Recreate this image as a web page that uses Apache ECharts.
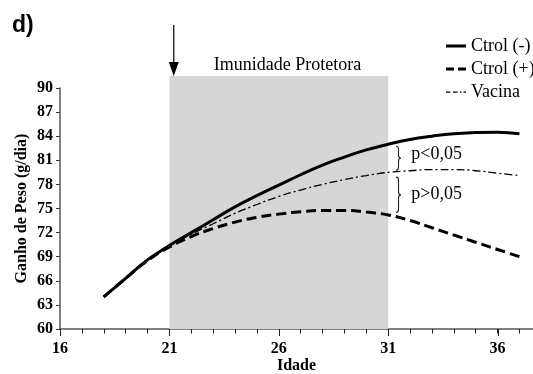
<!DOCTYPE html>
<html><head><meta charset="utf-8">
<script src="https://cdn.jsdelivr.net/npm/echarts@6/dist/echarts.min.js"></script>
<style>html,body{margin:0;padding:0;background:#fff}#c{width:533px;height:374px}</style>
</head><body><div id="c"></div>
<script>
// ---- data ----
const days = [18,19,20,21,22,23,24,25,26,27,28,29,30,31,32,33,34,35,36,37];
const ctrlNeg = [64.0,66.3,68.6,70.4,72.0,73.6,75.2,76.6,77.9,79.2,80.4,81.4,82.3,83.0,83.6,84.0,84.3,84.45,84.5,84.3];
const ctrlPos = [64.0,66.3,68.5,70.2,71.5,72.5,73.3,73.9,74.3,74.6,74.75,74.75,74.55,74.2,73.5,72.6,71.7,70.8,69.9,69.0];
const vacina  = [64.0,66.3,68.5,70.3,71.8,73.1,74.4,75.5,76.5,77.3,78.0,78.6,79.1,79.5,79.7,79.85,79.85,79.7,79.4,79.1];
const seriesNames = ['Ctrol (-)','Ctrol (+)','Vacina'];
const xLabels = [16,21,26,31,36];
const protectionWindow = [21, 31];
const pLabels = ['p<0,05','p>0,05'];

const serif = '"Liberation Serif", "Times New Roman", serif';
const pair = arr => days.map((d,i)=>[d, arr[i]]);

function brace(x, y0, y1, w) {
  const ym = (y0+y1)/2, q = Math.min(3,(y1-y0)/4), h = w/2;
  return `M${x} ${y0} Q${x+h} ${y0} ${x+h} ${y0+q} L${x+h} ${ym-q} Q${x+h} ${ym} ${x+w} ${ym} Q${x+h} ${ym} ${x+h} ${ym+q} L${x+h} ${y1-q} Q${x+h} ${y1} ${x} ${y1}`;
}
const box = 'M0,0h0.01v0.01h-0.01Z M19.99,13.99h0.01v0.01h-0.01Z ';
const legendIcons = [
  'path://' + box + 'M0,5.5h20v3h-20Z',
  'path://' + box + 'M0,5.5h8v3h-8Z M12,5.5h8v3h-8Z',
  'path://' + box + 'M0,6.4h4.5v1.3h-4.5Z M7,6.4h4.5v1.3h-4.5Z M14,6.4h1.5v1.3h-1.5Z M17.5,6.4h2.5v1.3h-2.5Z'
];

const chart = echarts.init(document.getElementById('c'), null, {renderer:'canvas'});
const option = {
  animation:false,
  backgroundColor:'#fff',
  grid:{left:60, right:0, top:88, bottom:45, outerBoundsMode:'none', containLabel:false},
  graphic:[{type:'text', left:12, top:14, style:{text:'d)', font:'bold 23px "Liberation Sans", Arial, sans-serif', fill:'#000'}}],
  legend:{
    data:seriesNames.map((n,i)=>({name:n, icon:legendIcons[i], itemStyle:{color:'#000', borderWidth:0}})),
    orient:'vertical', left:441, top:32, itemGap:5,
    itemWidth:20, itemHeight:14, symbolKeepAspect:false,
    textStyle:{fontFamily:serif, fontSize:18, color:'#000'}
  },
  xAxis:[{
    type:'value', min:16, max:37.62, interval:1, position:'bottom',
    axisLine:{show:true, onZero:false, lineStyle:{color:'#555', width:1.5}},
    axisTick:{show:true, inside:false, length:4.5, lineStyle:{color:'#222', width:1}},
    axisLabel:{margin:12, showMaxLabel:false, fontFamily:serif, fontWeight:'bold', fontSize:16, color:'#000',
      formatter:v => xLabels.includes(v) ? String(v) : ''},
    splitLine:{show:false},
    name:'Idade', nameLocation:'middle', nameGap:29, nameMoveOverlap:false,
    nameTextStyle:{fontFamily:serif, fontWeight:'bold', fontSize:16, color:'#000'}
  }],
  yAxis:{
    type:'value', min:60, max:90, interval:3,
    axisLine:{show:true, onZero:false, lineStyle:{color:'#555', width:1.5}},
    axisTick:{show:true, length:4, lineStyle:{color:'#333', width:1}},
    axisLabel:{margin:7, fontFamily:serif, fontWeight:'bold', fontSize:16, color:'#000'},
    splitLine:{show:false},
    name:'Ganho de Peso (g/dia)', nameLocation:'middle', nameGap:30, nameMoveOverlap:false,
    nameTextStyle:{fontFamily:serif, fontWeight:'bold', fontSize:16, color:'#000'}
  },
  series:[
    {
      type:'custom', coordinateSystem:'cartesian2d', xAxisIndex:0, yAxisIndex:0,
      data:[[protectionWindow[0], 60]], z:1, silent:true, clip:false,
      renderItem:(params, api) => {
        const tl = api.coord([protectionWindow[0], 91.5]);
        const br = api.coord([protectionWindow[1], 60]);
        const arT = api.coord([21.2, 97.84]);
        const arH = api.coord([21.2, 93.24]);
        const arTip = api.coord([21.2, 91.5]);
        const title = api.coord([26.4, 92.8]);
        const b1a = api.coord([31.45, 82.75]), b1b = api.coord([31.45, 79.75]);
        const b2a = api.coord([31.45, 78.9]), b2b = api.coord([31.45, 74.5]);
        const t1 = api.coord([32.06, 81.75]), t2 = api.coord([32.06, 76.8]);
        const majorTicks = xLabels.map(v => {
          const p = api.coord([v, 60]);
          const xx = Math.round(p[0]) + 0.5;
          return {type:'line', shape:{x1:xx, y1:p[1], x2:xx, y2:p[1]+7}, style:{stroke:'#222', lineWidth:1}};
        });
        return {type:'group', children:[
          {type:'rect', shape:{x:tl[0], y:tl[1], width:br[0]-tl[0], height:br[1]-tl[1]}, style:{fill:'#d6d6d6'}},
          {type:'line', shape:{x1:arT[0], y1:arT[1], x2:arH[0], y2:arH[1]}, style:{stroke:'#000', lineWidth:1.2}},
          {type:'polygon', shape:{points:[[arH[0]-5,arH[1]],[arH[0]+5,arH[1]],[arTip[0],arTip[1]]]}, style:{fill:'#000'}},
          {type:'text', style:{text:'Imunidade Protetora', x:title[0], y:title[1], align:'center', verticalAlign:'middle', font:'18px '+serif, fill:'#000'}},
          {type:'path', shape:{pathData:brace(b1a[0]-2, b1a[1], b1b[1], 5)}, style:{stroke:'#222', fill:null, lineWidth:1.1}},
          {type:'path', shape:{pathData:brace(b2a[0]-2, b2a[1], b2b[1], 5)}, style:{stroke:'#222', fill:null, lineWidth:1.1}},
          {type:'text', style:{text:pLabels[0], x:t1[0], y:t1[1], align:'left', verticalAlign:'middle', font:'18px '+serif, fill:'#000'}},
          {type:'text', style:{text:pLabels[1], x:t2[0], y:t2[1], align:'left', verticalAlign:'middle', font:'18px '+serif, fill:'#000'}}
        ].concat(majorTicks)};
      }
    },
    {name:seriesNames[0], type:'line', data:pair(ctrlNeg), smooth:true, symbol:'none', z:3,
      lineStyle:{color:'#000', width:3, type:'solid'}, itemStyle:{color:'#000'}},
    {name:seriesNames[1], type:'line', data:pair(ctrlPos), smooth:true, symbol:'none', z:3,
      lineStyle:{color:'#000', width:3, type:[10,5]}, itemStyle:{color:'#000'}},
    {name:seriesNames[2], type:'line', data:pair(vacina), smooth:true, symbol:'none', z:3,
      lineStyle:{color:'#000', width:1.3, type:[8,3,2,3]}, itemStyle:{color:'#000'}}
  ]
};
chart.setOption(option);
</script>
</body></html>
